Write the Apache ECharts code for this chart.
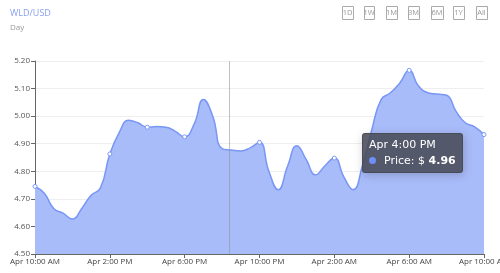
<!DOCTYPE html>
<html><head><meta charset="utf-8">
<script src="https://cdn.jsdelivr.net/npm/echarts@6/dist/echarts.min.js"></script>
<style>html,body{margin:0;padding:0;background:#fff}#c{width:500px;height:273px}</style>
</head><body><div id="c"></div>
<script>
const hours = [0,0.5,1,1.5,2,2.5,3,3.5,4,4.5,5,5.5,6,6.5,7,7.5,8,8.5,9,9.5,10,10.5,11,11.5,12,12.5,13,13.5,14,14.5,15,15.5,16,16.5,17,17.5,18,18.5,19,19.5,20,20.5,21,21.5,22,22.5,23,23.5,24];
const prices = [4.745,4.72,4.665,4.648,4.627,4.665,4.713,4.74,4.863,4.94,4.985,4.976,4.96,4.962,4.96,4.945,4.925,4.97,5.06,5.0,4.882,4.877,4.874,4.885,4.905,4.80,4.733,4.818,4.893,4.842,4.787,4.82,4.848,4.781,4.733,4.82,4.95,5.06,5.085,5.12,5.166,5.109,5.085,5.08,5.076,5.018,4.976,4.961,4.933];
const tickHours = [0,4,8,12,16,20,24];
const tickLabels = ['Apr 10:00 AM','Apr 2:00 PM','Apr 6:00 PM','Apr 10:00 PM','Apr 2:00 AM','Apr 6:00 AM','Apr 10:00 AM'];
const hourLabels = {6:'Apr 4:00 PM'};
const markerHours = [0,4,6,8,12,16,20,24];
const ranges = ['1D','1W','1M','3M','6M','1Y','All'];
const rangeX = [342,364,386,408,431,453,476];
const rangeW = [11,10,11,11,12,11,11];
const crossHour = 10.4;
const tipHourIndex = 12;

const chart = echarts.init(document.getElementById('c'), null, {renderer:'canvas'});
const graphics = [];
ranges.forEach((r,i)=>{
  graphics.push({type:'rect', left:rangeX[i], top:6, shape:{width:rangeW[i], height:13}, style:{fill:'#fff', stroke:'#aaa', lineWidth:1}});
  graphics.push({type:'text', x:rangeX[i]+rangeW[i]/2, y:12.8, style:{text:r, fill:'#999', font:'7.5px "Open Sans"', align:'center', verticalAlign:'middle'}});
});
chart.setOption({
  animation:false,
  title:[
    {text:'WLD/USD', left:5, top:4, textStyle:{fontSize:9, fontWeight:'normal', color:'#8a9ff2', fontFamily:'Open Sans'}},
    {text:'Day', left:5, top:19, textStyle:{fontSize:8, fontWeight:'normal', color:'#999', fontFamily:'Open Sans'}}
  ],
  graphic:graphics,
  grid:{left:35, right:16, top:61, bottom:19, outerBoundsMode:'none', containLabel:false},
  tooltip:{
    trigger:'axis', axisPointer:{type:'none'}, alwaysShowContent:true,
    position:[362,133], backgroundColor:'rgba(72,74,86,0.88)', borderColor:'rgba(72,74,86,0.88)', borderRadius:3,
    padding:[3,6], textStyle:{color:'#fff', fontSize:11, fontFamily:'DejaVu Sans'},
    formatter:(ps)=>{const p=ps[0]; const h=p.value[0];
      return '<div style="line-height:16px">'+(hourLabels[h]||'')+'</div><div style="line-height:16px"><span style="display:inline-block;width:7px;height:7px;border-radius:50%;background:#6f8ff5;margin-right:8px"></span>Price: $ <b>'+p.value[1].toFixed(2)+'</b></div>';}
  },
  xAxis:{type:'value', min:0, max:24, interval:4,
    axisLine:{lineStyle:{color:'#666'}}, axisTick:{show:true, length:4, lineStyle:{color:'#666'}},
    splitLine:{show:false},
    axisLabel:{fontSize:8, color:'#444', fontFamily:'Open Sans', margin:4, formatter:(v)=>tickLabels[tickHours.indexOf(v)]}},
  yAxis:{type:'value', min:4.5, max:5.2, interval:0.1,
    axisLine:{show:true, lineStyle:{color:'#666'}}, axisTick:{show:true, length:4, lineStyle:{color:'#666'}},
    splitLine:{lineStyle:{color:'#eee'}},
    axisLabel:{fontSize:8, color:'#555', fontFamily:'Open Sans', margin:5, formatter:(v)=>v.toFixed(2)}},
  series:[{
    type:'line', smooth:true, data:hours.map((h,i)=>[h,prices[i]]),
    symbol:'circle', showAllSymbol:true,
    symbolSize:(v)=>markerHours.includes(v[0])?4:0,
    itemStyle:{color:'#fff', borderColor:'#7b97f5', borderWidth:1},
    lineStyle:{color:'#7896f5', width:1.5},
    areaStyle:{color:'#a9bcfa', opacity:1},
    emphasis:{disabled:true, scale:false}
  },{
    type:'line', data:[], z:5, silent:true, tooltip:{show:false},
    markLine:{silent:true, symbol:'none', label:{show:false}, lineStyle:{color:'rgba(150,150,150,0.6)', width:1, type:'solid'}, data:[{xAxis:crossHour}]}
  }]
});
chart.dispatchAction({type:'showTip', seriesIndex:0, dataIndex:tipHourIndex});
</script></body></html>
